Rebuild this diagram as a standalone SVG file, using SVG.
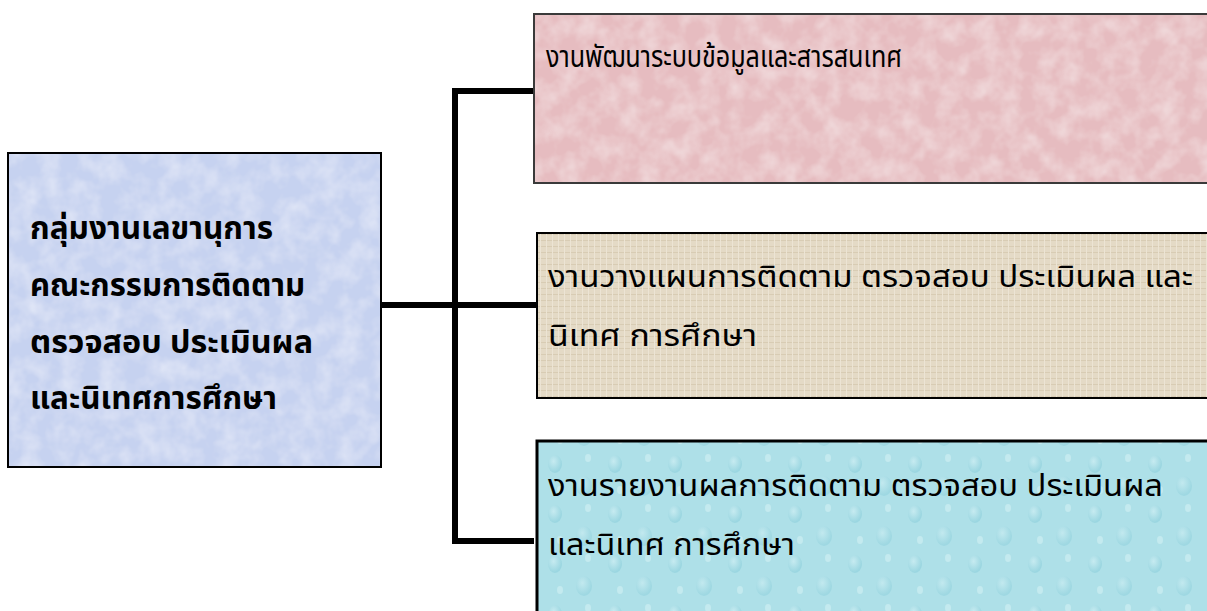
<svg xmlns="http://www.w3.org/2000/svg" width="1207" height="611" viewBox="0 0 1207 611">
<defs>
<filter id="mottle" x="0" y="0" width="100%" height="100%">
<feTurbulence type="fractalNoise" baseFrequency="0.05" numOctaves="3" seed="4" result="n"/>
<feColorMatrix in="n" type="matrix" values="0 0 0 0 1  0 0 0 0 1  0 0 0 0 1  0.7 0 0 0 -0.25" result="a"/>
<feComposite in="a" in2="SourceAlpha" operator="in" result="t"/>
<feMerge><feMergeNode in="SourceGraphic"/><feMergeNode in="t"/></feMerge>
</filter>
<pattern id="linen" width="6" height="6" patternUnits="userSpaceOnUse">
<rect width="6" height="6" fill="#e4dac6"/>
<rect width="6" height="1" fill="#d8ccb4"/>
<rect width="1" height="6" fill="#ece4d4"/>
</pattern>
<radialGradient id="drop" cx="0.4" cy="0.35" r="0.6">
<stop offset="0" stop-color="#d6f2f6"/>
<stop offset="1" stop-color="#8fd0dc"/>
</radialGradient>
<pattern id="drops" width="60" height="50" patternUnits="userSpaceOnUse">
<rect width="60" height="50" fill="#aee0e8"/>
<ellipse cx="15" cy="14" rx="7" ry="9" fill="url(#drop)" opacity="0.6"/>
<ellipse cx="44" cy="36" rx="8" ry="10" fill="url(#drop)" opacity="0.5"/>
<ellipse cx="48" cy="8" rx="3" ry="4" fill="#cdeef3" opacity="0.7"/>
<ellipse cx="20" cy="40" rx="3" ry="4" fill="#cdeef3" opacity="0.7"/>
</pattern>
</defs>
<style>
.frame{fill:none;stroke:#000;stroke-width:2}
.main{font-family:"Noto Sans Thai","Noto Sans","DejaVu Sans",sans-serif;font-size:31px;font-weight:bold;fill:#000}
.sub{font-family:"Noto Sans Thai","Noto Sans","DejaVu Sans",sans-serif;font-size:31px;fill:#000}
.conn{fill:none;stroke:#000;stroke-width:6;stroke-linejoin:miter;stroke-linecap:butt}
</style>
<rect width="1207" height="611" fill="#fff"/>
<g id="connectors">
<path class="conn" d="M381 305 H536"/>
<path class="conn" d="M533 91 H455 V541 H534"/>
</g>
<g id="node-main">
<rect x="8" y="153" width="373" height="314" fill="#c6d2f0" filter="url(#mottle)"/>
<rect class="frame" x="8" y="153" width="373" height="314"/>
<text class="main" x="30" y="239" textLength="243" lengthAdjust="spacingAndGlyphs">กลุ่มงานเลขานุการ</text>
<text class="main" x="30" y="296" textLength="275" lengthAdjust="spacingAndGlyphs">คณะกรรมการติดตาม</text>
<text class="main" x="30" y="353" textLength="283" lengthAdjust="spacingAndGlyphs">ตรวจสอบ ประเมินผล</text>
<text class="main" x="30" y="409" textLength="247" lengthAdjust="spacingAndGlyphs">และนิเทศการศึกษา</text>
</g>
<g id="node-info">
<rect x="534" y="14" width="675" height="169" fill="#e6bcc0" filter="url(#mottle)"/>
<rect x="534" y="14" width="675" height="169" fill="none" stroke="#3a3a3a" stroke-width="2"/>
<text class="sub" x="546" y="67" textLength="356" lengthAdjust="spacingAndGlyphs">งานพัฒนาระบบข้อมูลและสารสนเทศ</text>
</g>
<g id="node-plan">
<rect x="537" y="233" width="672" height="165" fill="url(#linen)"/>
<rect class="frame" x="537" y="233" width="672" height="165"/>
<text class="sub" x="548" y="287" textLength="645" lengthAdjust="spacingAndGlyphs">งานวางแผนการติดตาม ตรวจสอบ ประเมินผล และ</text>
<text class="sub" x="548" y="346" textLength="209" lengthAdjust="spacingAndGlyphs">นิเทศ การศึกษา</text>
</g>
<g id="node-report">
<rect x="537" y="441" width="672" height="172" fill="url(#drops)" stroke="#000" stroke-width="3"/>
<text class="sub" x="548" y="496" textLength="615" lengthAdjust="spacingAndGlyphs">งานรายงานผลการติดตาม ตรวจสอบ ประเมินผล</text>
<text class="sub" x="548" y="555" textLength="247" lengthAdjust="spacingAndGlyphs">และนิเทศ การศึกษา</text>
</g>
</svg>
